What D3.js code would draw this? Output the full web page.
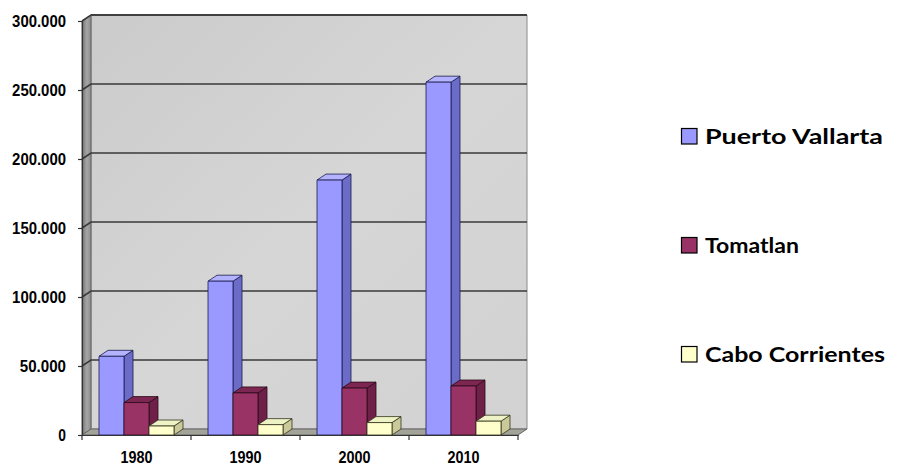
<!DOCTYPE html>
<html>
<head>
<meta charset="utf-8">
<script src="https://cdn.jsdelivr.net/npm/d3@7"></script>
<style>
  html, body { margin: 0; padding: 0; background: #ffffff; }
  svg { display: block; }
</style>
</head>
<body>
<svg id="chart" width="903" height="466"></svg>
<script>
// Population by municipality and census year
const years = ["1980", "1990", "2000", "2010"];
const seriesNames = ["Puerto Vallarta", "Tomatlan", "Cabo Corrientes"];
const puertoVallarta = [57028, 111457, 184728, 255681];
const tomatlan = [23500, 30500, 34000, 35500];
const caboCorrientes = [6500, 7500, 9000, 10000];
const yTicks = [0, 50000, 100000, 150000, 200000, 250000, 300000];
const yTickLabels = ["0", "50.000", "100.000", "150.000", "200.000", "250.000", "300.000"];

const seriesValues = [puertoVallarta, tomatlan, caboCorrientes];

// face colours per series: front, side, top
const palette = [
  { front: "#9999ff", side: "#6b6bc8", top: "#b3b3ff", stroke: "#1a1a4d" },
  { front: "#993366", side: "#6e2049", top: "#7d2652", stroke: "#2a0a18" },
  { front: "#ffffcc", side: "#c9c99a", top: "#eef3c6", stroke: "#33331a" }
];

const svg = d3.select("#chart");

// plot frame geometry (front plane + depth offset)
const plotL = 82, plotR = 518, plotB = 435, plotT = 21;
const dx = 9, dy = -6;

const y = d3.scaleLinear().domain([0, 300000]).range([plotB, plotT]);
const x0 = d3.scaleBand().domain(years).range([plotL, plotR]).padding(0);
const x1 = d3.scaleBand().domain(seriesNames).range([0, x0.bandwidth()])
  .paddingInner(0).paddingOuter(0.68);

const defs = svg.append("defs");
const gWall = defs.append("linearGradient").attr("id", "backWall")
  .attr("x1", "0").attr("y1", "0").attr("x2", "1").attr("y2", "1");
gWall.append("stop").attr("offset", "0").attr("stop-color", "#cbcbcb");
gWall.append("stop").attr("offset", "0.5").attr("stop-color", "#d6d6d6");
gWall.append("stop").attr("offset", "1").attr("stop-color", "#d2d2d2");
const gSide = defs.append("linearGradient").attr("id", "sideWall")
  .attr("x1", "0").attr("y1", "0").attr("x2", "1").attr("y2", "0");
gSide.append("stop").attr("offset", "0").attr("stop-color", "#767676");
gSide.append("stop").attr("offset", "0.55").attr("stop-color", "#a6a6a6");
gSide.append("stop").attr("offset", "1").attr("stop-color", "#8a8a8a");

const pts = a => a.map(p => p.join(",")).join(" ");

// back wall
svg.append("polygon")
  .attr("points", pts([[plotL + dx, plotT + dy], [plotR + dx, plotT + dy], [plotR + dx, plotB + dy], [plotL + dx, plotB + dy]]))
  .attr("fill", "url(#backWall)").attr("stroke", "#8a8a8a").attr("stroke-width", 1);
// top edge of back wall
svg.append("line")
  .attr("x1", plotL + dx).attr("x2", plotR + dx)
  .attr("y1", plotT + dy).attr("y2", plotT + dy)
  .attr("stroke", "#555").attr("stroke-width", 2);

// left side wall
svg.append("polygon")
  .attr("points", pts([[plotL, plotT], [plotL + dx, plotT + dy], [plotL + dx, plotB + dy], [plotL, plotB]]))
  .attr("fill", "url(#sideWall)").attr("stroke", "#666").attr("stroke-width", 1);

// floor
svg.append("polygon")
  .attr("points", pts([[plotL, plotB], [plotL + dx, plotB + dy], [plotR + dx, plotB + dy], [plotR, plotB]]))
  .attr("fill", "#a3a39a").attr("stroke", "#666").attr("stroke-width", 1);

// gridlines on back wall and side wall
const grid = svg.append("g");
yTicks.filter(v => v > 0).forEach(v => {
  grid.append("polyline")
    .attr("points", pts([[plotL, y(v)], [plotL + dx, y(v) + dy], [plotR + dx, y(v) + dy]]))
    .attr("fill", "none").attr("stroke", "#3a3a3a").attr("stroke-width", 1.6);
});

// bars
const bars = svg.append("g");
years.forEach((yr, i) => {
  seriesNames.forEach((name, s) => {
    const v = seriesValues[s][i];
    const c = palette[s];
    const bx = x0(yr) + x1(name);
    const bw = x1.bandwidth();
    const by = y(v), bb = y(0);
    const g = bars.append("g").attr("stroke", c.stroke).attr("stroke-width", 0.8).attr("stroke-linejoin", "round");
    g.append("polygon")
      .attr("points", pts([[bx + bw, by], [bx + bw + dx, by + dy], [bx + bw + dx, bb + dy], [bx + bw, bb]]))
      .attr("fill", c.side);
    g.append("polygon")
      .attr("points", pts([[bx, by], [bx + dx, by + dy], [bx + bw + dx, by + dy], [bx + bw, by]]))
      .attr("fill", c.top);
    g.append("rect")
      .attr("x", bx).attr("y", by).attr("width", bw).attr("height", bb - by)
      .attr("fill", c.front);
  });
});

// axes
const axisFont = "'Liberation Sans', Arial, sans-serif";
const yAxis = d3.axisLeft(y).tickValues(yTicks).tickSize(4).tickPadding(12)
  .tickFormat((d, i) => yTickLabels[i]);
const gy = svg.append("g").attr("transform", `translate(${plotL},0)`).call(yAxis);
gy.select(".domain").attr("stroke", "#333").attr("stroke-width", 1.2);
gy.selectAll(".tick line").attr("stroke", "#333").attr("stroke-width", 1.2);
gy.selectAll(".tick text")
  .attr("font-family", axisFont).attr("font-weight", "bold").attr("font-size", 16.5)
  .attr("fill", "#000")
  .attr("textLength", function () { return this.textContent.length * 7.7; })
  .attr("lengthAdjust", "spacingAndGlyphs");

const xAxis = d3.axisBottom(x0).tickSize(0).tickPadding(16);
const gx = svg.append("g").attr("transform", `translate(0,${plotB})`).call(xAxis);
gx.select(".domain").attr("stroke", "#333").attr("stroke-width", 1.2);
gx.selectAll(".tick text")
  .attr("font-family", axisFont).attr("font-weight", "bold").attr("font-size", 16.5)
  .attr("fill", "#000").attr("textLength", 32).attr("lengthAdjust", "spacingAndGlyphs");
// category separators below the floor edge
gx.selectAll(".sep").data(d3.range(years.length + 1)).enter().append("line")
  .attr("x1", i => plotL + i * x0.step()).attr("x2", i => plotL + i * x0.step())
  .attr("y1", 0).attr("y2", 5).attr("stroke", "#333").attr("stroke-width", 1.2);

// legend
const legendFont = "Lato, 'Open Sans', sans-serif";
const legendY = [144, 253, 362];
const legendW = [178, 94, 180];
const legend = svg.append("g");
seriesNames.forEach((name, s) => {
  legend.append("rect")
    .attr("x", 681.5).attr("y", legendY[s] - 15.5).attr("width", 15.5).attr("height", 15.5)
    .attr("fill", palette[s].front).attr("stroke", "#000").attr("stroke-width", 1.2);
  legend.append("text")
    .attr("x", 705).attr("y", legendY[s])
    .attr("font-family", legendFont).attr("font-weight", "bold").attr("font-size", 21)
    .attr("fill", "#000")
    .attr("textLength", legendW[s]).attr("lengthAdjust", "spacingAndGlyphs")
    .text(name);
});
</script>
</body>
</html>
